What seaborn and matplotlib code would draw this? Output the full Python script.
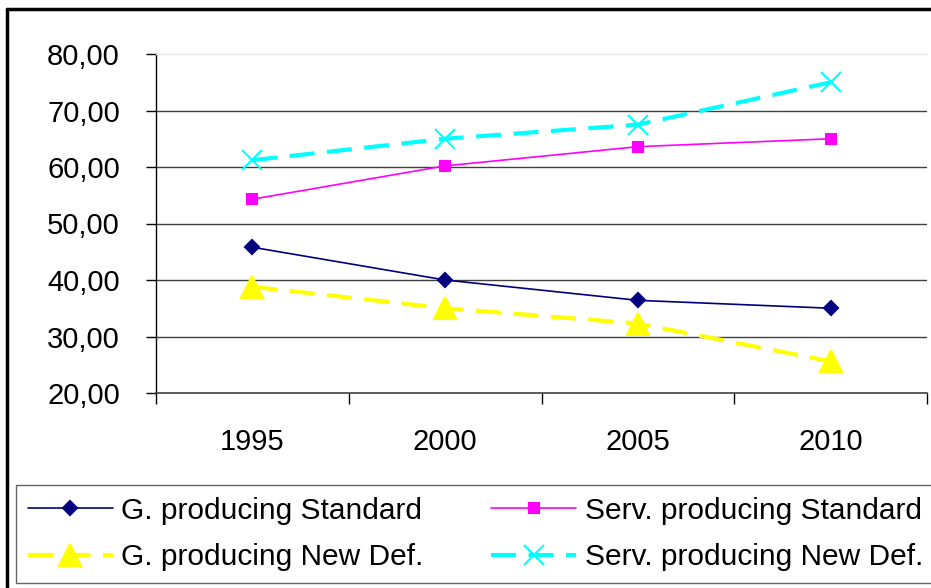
import numpy as np
import matplotlib.pyplot as plt
import seaborn as sns
import pandas as pd
from matplotlib.ticker import FuncFormatter, FixedLocator, NullFormatter
from matplotlib.lines import Line2D

years = [1995, 2000, 2005, 2010]
g_standard = [45.8, 40.0, 36.4, 35.0]
serv_standard = [54.3, 60.2, 63.6, 65.0]
g_new_def = [38.8, 35.0, 32.3, 25.6]
serv_new_def = [61.2, 65.0, 67.5, 75.0]

labels = ['G. producing Standard', 'Serv. producing Standard',
          'G. producing New Def.', 'Serv. producing New Def.']

sns.set_style('white')
plt.rcParams['font.family'] = ['Liberation Sans', 'DejaVu Sans']
plt.rcParams['text.color'] = 'black'

fig = plt.figure(figsize=(9.31, 5.88), dpi=100)
ax = fig.add_axes([156 / 931, 1 - 393 / 588, (927 - 156) / 931, (393 - 54) / 588])

df = pd.DataFrame({'year': years, 'g_std': g_standard, 's_std': serv_standard,
                   'g_new': g_new_def, 's_new': serv_new_def})

styles = [
    ('g_std', '#000080', 'D', 7, 1.2, '-'),
    ('s_std', '#FF00FF', 's', 7, 1.2, '-'),
    ('g_new', '#FFFF00', '^', 16, 3.0, (0, (6, 3))),
    ('s_new', '#00FFFF', 'x', 15, 3.0, (0, (6, 3))),
]
for (col, color, marker, ms, lw, ls) in styles:
    sns.lineplot(data=df, x='year', y=col, ax=ax, color=color, marker=marker,
                 markersize=ms, linewidth=lw, linestyle=ls, markeredgecolor=color,
                 markeredgewidth=1.5, legend=False)

ax.set_xlim(1992.5, 2012.5)
ax.set_ylim(20, 80)
ax.set_xlabel('')
ax.set_ylabel('')

# tick marks between categories, labels centred
ax.xaxis.set_major_locator(FixedLocator([1992.5, 1997.5, 2002.5, 2007.5, 2012.5]))
ax.xaxis.set_major_formatter(NullFormatter())
ax.xaxis.set_minor_locator(FixedLocator(years))
ax.set_xticklabels([str(y) for y in years], minor=True)
ax.tick_params(axis='x', which='major', direction='out', length=8, width=1, color='black', bottom=True)
ax.tick_params(axis='x', which='minor', length=0, pad=25, labelsize=21, labelcolor='black')

yticks = [20, 30, 40, 50, 60, 70, 80]
ax.set_yticks(yticks)
ax.yaxis.set_major_formatter(FuncFormatter(lambda v, p: f'{v:.2f}'.replace('.', ',')))
ax.tick_params(axis='y', direction='out', length=7, width=1, color='black', left=True,
               labelsize=21, pad=19, labelcolor='black')

for t in yticks[1:-1]:
    ax.axhline(t, color='#404040', linewidth=1.0, zorder=0)

ax.spines['top'].set_color('#e6e6e6')
ax.spines['top'].set_linewidth(1)
ax.spines['right'].set_visible(False)
ax.spines['left'].set_color('black')
ax.spines['bottom'].set_color('#404040')
ax.spines['left'].set_linewidth(1)
ax.spines['bottom'].set_linewidth(1.2)

# outer chart border
fig.add_artist(Line2D([7 / 931, 7 / 931], [0, 1 - 9 / 588], color='black', linewidth=2.5,
                      transform=fig.transFigure))
fig.add_artist(Line2D([7 / 931, 1], [1 - 9 / 588, 1 - 9 / 588], color='black', linewidth=2.5,
                      transform=fig.transFigure))

handles = []
for (col, color, marker, ms, lw, ls) in styles:
    handles.append(Line2D([], [], color=color, marker=marker, markersize=ms, linewidth=lw,
                          linestyle=ls, markeredgecolor=color, markeredgewidth=1.5))
# legend fills column by column: rows are (0, 1) and (2, 3)
order = [0, 2, 1, 3]
leg = fig.legend([handles[i] for i in order], [labels[i] for i in order], ncol=2,
                 loc='upper left', bbox_to_anchor=(16 / 931, 5 / 588, 919 / 931, 98 / 588),
                 mode='expand', frameon=True, fancybox=False, borderaxespad=0,
                 handlelength=2.85, handletextpad=0.28, columnspacing=1.0,
                 labelspacing=0.62, borderpad=0.4, fontsize=21.5)
leg.get_frame().set_edgecolor('#404040')
leg.get_frame().set_linewidth(1)

plt.savefig('out.png', dpi=100)
